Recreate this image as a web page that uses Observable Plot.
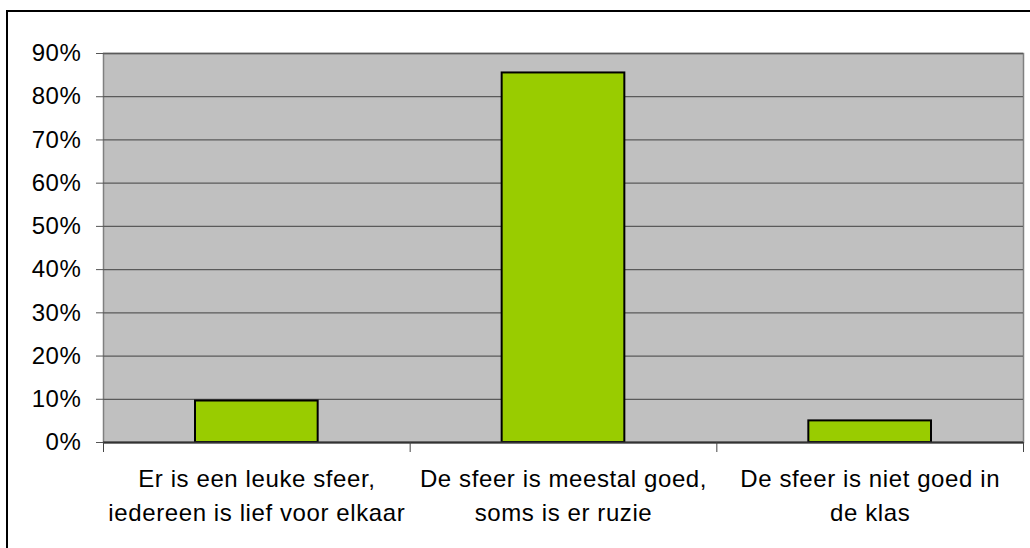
<!DOCTYPE html>
<html><head><meta charset="utf-8">
<script src="https://cdn.jsdelivr.net/npm/d3@7"></script>
<script src="https://cdn.jsdelivr.net/npm/@observablehq/plot@0.6"></script>
<style>
body{margin:0;background:#fff;}
#wrap{position:relative;width:1030px;height:548px;overflow:hidden;}
#border{position:absolute;left:6px;top:10px;width:1100px;height:700px;border:2px solid #000;box-sizing:border-box;}
#wrap svg{position:absolute;left:0;top:0;}
#wrap svg text{letter-spacing:0.6px;}
</style></head><body><div id="wrap"><div id="border"></div></div>
<script>
const categories = [
  "Er is een leuke sfeer,\niedereen is lief voor elkaar",
  "De sfeer is meestal goed,\nsoms is er ruzie",
  "De sfeer is niet goed in\nde klas"
];
const values = [0.096, 0.855, 0.05];
const yTicks = [0, 0.1, 0.2, 0.3, 0.4, 0.5, 0.6, 0.7, 0.8, 0.9];

const data = categories.map((c, i) => ({i, c, v: values[i]}));
const labelPos = categories.map((c, i) => i + 0.5);
const sepPos = [0, 1, 2, 3];

const chart = Plot.plot({
  width: 1030,
  height: 548,
  marginLeft: 103,
  marginRight: 7,
  marginTop: 53,
  marginBottom: 106,
  style: {fontFamily: "'Liberation Sans', Arial, sans-serif", fontSize: "24px", background: "transparent", color: "#000"},
  x: {domain: [0, 3]},
  y: {domain: [0, 0.9]},
  marks: [
    Plot.frame({fill: "#c0c0c0", stroke: "#808080", strokeWidth: 1.5}),
    Plot.gridY(yTicks, {stroke: "#5a5a5a", strokeOpacity: 1, strokeWidth: 1.3}),
    Plot.rect(data, {x1: "i", x2: d => d.i + 1, y1: 0, y2: "v", insetLeft: 92, insetRight: 92, fill: "#99cc00", stroke: "#000", strokeWidth: 2}),
    Plot.ruleY([0], {stroke: "#333", strokeWidth: 2}),
    Plot.axisY(yTicks, {tickFormat: d3.format(".0%"), tickSize: 7, tickPadding: 15, fontSize: 24, stroke: "#555", fill: "#000", label: null}),
    Plot.axisX(sepPos, {tickSize: 10, tickFormat: () => "", stroke: "#444", label: null}),
    Plot.axisX(labelPos, {tickSize: 0, tickPadding: 20, tickFormat: d => categories[Math.floor(d)], fontSize: 24, lineHeight: 1.42, fill: "#000", label: null})
  ]
});
document.getElementById("wrap").appendChild(chart);
</script>
</body></html>
